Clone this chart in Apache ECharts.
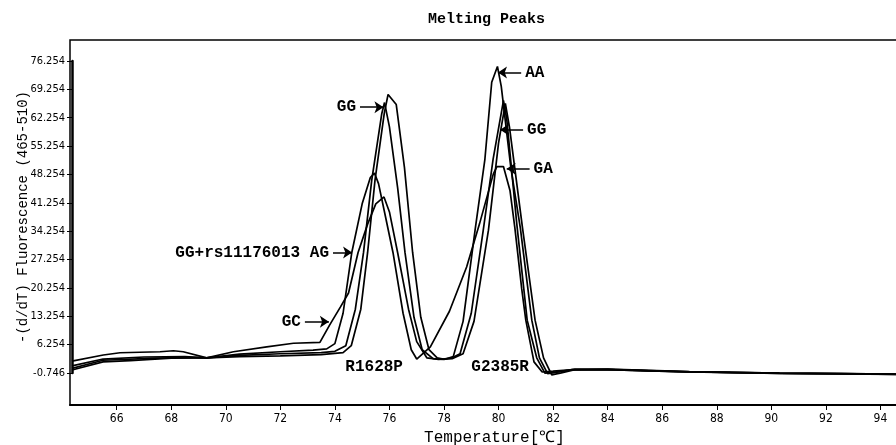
<!DOCTYPE html>
<html>
<head>
<meta charset="utf-8">
<script src="https://cdn.jsdelivr.net/npm/echarts@6/dist/echarts.min.js"></script>
<style>
  html, body { margin: 0; padding: 0; background: #fff; }
  #chart { width: 896px; height: 445px; }
</style>
</head>
<body>
<div id="chart"></div>
<script>
// 熔解峰曲线，每条为 [温度, -(d/dT)荧光]
var curveA = [[64.36, 0.0], [65.5, 2.0], [66.5, 2.3], [68, 2.9], [69.3, 3.0], [70.5, 3.3], [72, 3.5], [73.5, 3.8], [74.3, 4.3], [74.6, 6], [74.95, 15], [75.2, 29], [75.47, 46.8], [75.81, 63.3], [75.95, 68.0], [76.25, 65.5], [76.55, 50], [76.85, 29], [77.15, 13], [77.45, 5], [77.75, 3.0], [77.97, 2.7], [78.3, 3.0], [78.59, 4], [79.0, 14], [79.44, 34.5], [79.8, 52], [80.18, 66.5], [80.3, 62], [80.67, 36], [81.05, 12.3], [81.4, 3], [81.7, -0.8], [82.0, -0.6], [82.4, -0.2], [82.8, 0.2], [84, 0.15], [85.5, -0.15], [87, -0.45], [88.5, -0.6], [90.3, -0.82], [92.5, -0.92], [94.61, -1.07]];
var curveB = [[64.36, 0.4], [65.5, 2.4], [67, 2.8], [68.5, 3.1], [69.3, 3.0], [70.5, 3.6], [72, 4.0], [73.5, 4.3], [74.0, 4.6], [74.4, 6], [74.75, 15], [75.05, 29], [75.35, 46.8], [75.72, 63.3], [75.82, 66], [76.0, 60], [76.3, 45], [76.57, 29], [76.9, 13], [77.2, 5], [77.6, 2.8], [78.0, 2.6], [78.34, 3.3], [78.7, 12], [79.14, 34.5], [79.5, 52], [79.75, 71], [79.96, 74.9], [80.1, 70], [80.45, 50], [80.8, 35], [81.22, 12.3], [81.5, 3], [81.8, -0.9], [82.2, -0.5], [82.7, 0.1], [84, 0.2], [85.5, -0.1], [87, -0.4], [88.5, -0.6], [90.3, -0.8], [92.5, -0.9], [94.61, -1.05]];
var curveC = [[64.36, 1.0], [65.5, 2.7], [67, 3.2], [68.5, 3.3], [69.3, 3.0], [70.5, 3.9], [72, 4.5], [73.2, 4.9], [73.7, 5.2], [74.0, 6.5], [74.3, 14], [74.62, 29], [75.0, 41], [75.3, 47.5], [75.45, 48.6], [75.6, 46], [75.85, 38], [76.13, 29], [76.5, 14], [76.8, 5], [77.0, 2.7], [77.5, 5.7], [78.2, 14.5], [78.83, 25.4], [79.3, 36], [79.81, 48.4], [79.94, 50.2], [80.18, 50.2], [80.42, 44.3], [80.6, 35], [80.85, 20], [81.0, 12.3], [81.3, 2], [81.6, -0.5], [82.0, -0.3], [82.5, 0.0], [84, 0.1], [85.5, -0.2], [87, -0.5], [88.5, -0.65], [90.3, -0.85], [92.5, -0.95], [94.61, -1.1]];
var curveD = [[64.36, 2.2], [65.51, 3.7], [66.12, 4.25], [67.59, 4.5], [68.08, 4.75], [68.44, 4.5], [69.3, 3.0], [70.28, 4.5], [71.5, 5.7], [72.48, 6.6], [73.45, 6.8], [73.8, 11.0], [74.2, 15.5], [74.5, 19], [74.85, 29], [75.2, 36], [75.5, 41], [75.8, 42.7], [76.0, 39], [76.3, 29], [76.7, 15], [77.0, 7], [77.37, 3.0], [77.8, 2.6], [78.3, 2.8], [78.7, 4], [79.1, 12], [79.63, 34.5], [80.0, 56], [80.25, 65.8], [80.4, 60], [80.88, 35], [81.34, 12.3], [81.65, 3], [81.95, -1.2], [82.3, -0.7], [82.8, 0.05], [84, 0.1], [85.5, -0.2], [87, -0.45], [88.5, -0.6], [90.3, -0.8], [92.5, -0.9], [94.61, -1.05]];

// 坐标轴刻度
var xTicks = [66, 68, 70, 72, 74, 76, 78, 80, 82, 84, 86, 88, 90, 92, 94];
var yTicks = [-0.746, 6.254, 13.254, 20.254, 27.254, 34.254, 41.254, 48.254, 55.254, 62.254, 69.254, 76.254];

// 标注：箭头起点、终点
var arrowNames = ['GG', 'GG+rs11176013 AG', 'GC', 'AA', 'GG', 'GA'];
var arrowFrom = [[74.92, 64.85], [73.93, 28.98], [72.9, 11.89], [80.83, 73.39], [80.9, 59.28], [81.14, 49.67]];
var arrowTo = [[75.78, 64.85], [74.63, 28.98], [73.78, 11.89], [79.98, 73.39], [80.06, 59.28], [80.3, 49.67]];
var siteNames = ['R1628P', 'G2385R'];
var sitePos = [[75.44, 0.73], [80.06, 0.73]];

var monoFont = "'Liberation Mono', 'DejaVu Sans Mono', monospace";
var narrowFont = "'DejaVu Sans Condensed', sans-serif";

(function () {
  var myChart = echarts.init(document.getElementById('chart'));

  var lineSeries = [curveA, curveB, curveC, curveD].map(function (d, i) {
    return {
      type: 'line',
      xAxisIndex: 0,
      yAxisIndex: 0,
      data: d,
      showSymbol: false,
      smooth: false,
      clip: false,
      lineStyle: { color: '#000', width: 1.7 },
      z: 3
    };
  });

  // 箭头和文字挂在第一条曲线上
  lineSeries[0].markLine = {
    silent: true,
    animation: false,
    symbol: ['none', 'arrow'],
    symbolSize: 9,
    lineStyle: { color: '#000', width: 1.5, type: 'solid' },
    label: {
      show: true,
      position: 'start',
      distance: 4,
      color: '#000',
      fontFamily: monoFont,
      fontWeight: 'bold',
      fontSize: 16,
      formatter: '{b}'
    },
    data: arrowNames.map(function (n, i) {
      return [{ name: n, coord: arrowFrom[i] }, { coord: arrowTo[i] }];
    })
  };
  lineSeries[0].markPoint = {
    silent: true,
    animation: false,
    symbol: 'rect',
    symbolSize: 0,
    label: {
      show: true,
      position: 'inside',
      color: '#000',
      fontFamily: monoFont,
      fontWeight: 'bold',
      fontSize: 16,
      formatter: '{b}'
    },
    data: siteNames.map(function (n, i) {
      return { name: n, coord: sitePos[i] };
    })
  };

  var option = {
    animation: false,
    backgroundColor: '#fff',
    title: {
      text: 'Melting Peaks',
      left: 423,
      top: 7,
      textStyle: { fontFamily: monoFont, fontSize: 15, fontWeight: 'bold', color: '#000' }
    },
    grid: [
      // 曲线和y轴
      { left: 72, right: -1, top: 61, bottom: 72, outerBoundsMode: 'none', containLabel: false },
      // 外框和x轴
      { left: 70, right: -3, top: 40, bottom: 40, outerBoundsMode: 'none', containLabel: false,
        show: true, borderColor: '#000', borderWidth: 1.5 }
    ],
    xAxis: [
      {
        type: 'value', gridIndex: 0, min: 64.361, max: 94.61, show: false
      },
      {
        type: 'value', gridIndex: 1, min: 64.2875, max: 94.68,
        name: 'Temperature[℃]',
        nameLocation: 'middle',
        nameGap: 25,
        nameMoveOverlap: false,
        nameTextStyle: { fontFamily: monoFont, fontSize: 16, color: '#000', padding: [0, 0, 0, 20] },
        axisLine: { show: true, lineStyle: { color: '#000', width: 2 } },
        axisTick: { show: true, inside: false, length: 5, customValues: xTicks, lineStyle: { color: '#000' } },
        axisLabel: {
          customValues: xTicks,
          margin: 8,
          color: '#000',
          fontFamily: narrowFont,
          fontSize: 12
        },
        splitLine: { show: false }
      }
    ],
    yAxis: [
      {
        type: 'value', gridIndex: 0, min: -0.746, max: 76.254,
        name: '-(d/dT) Fluorescence (465-510)',
        nameLocation: 'middle',
        nameGap: 42,
        nameRotate: 90,
        nameMoveOverlap: false,
        nameTextStyle: { fontFamily: monoFont, fontSize: 14, color: '#000' },
        axisLine: { show: true, lineStyle: { color: '#000', width: 2.5 } },
        axisTick: { show: true, inside: false, length: 5, customValues: yTicks, lineStyle: { color: '#000' } },
        axisLabel: {
          customValues: yTicks,
          margin: 7,
          color: '#000',
          fontFamily: narrowFont,
          fontSize: 11,
          formatter: function (v) { return v.toFixed(3); }
        },
        splitLine: { show: false }
      },
      {
        type: 'value', gridIndex: 1, min: 0, max: 1, show: false
      }
    ],
    series: lineSeries
  };

  myChart.setOption(option);
  window.addEventListener('resize', function () {
    myChart.resize();
  });
})();
</script>
</body>
</html>
